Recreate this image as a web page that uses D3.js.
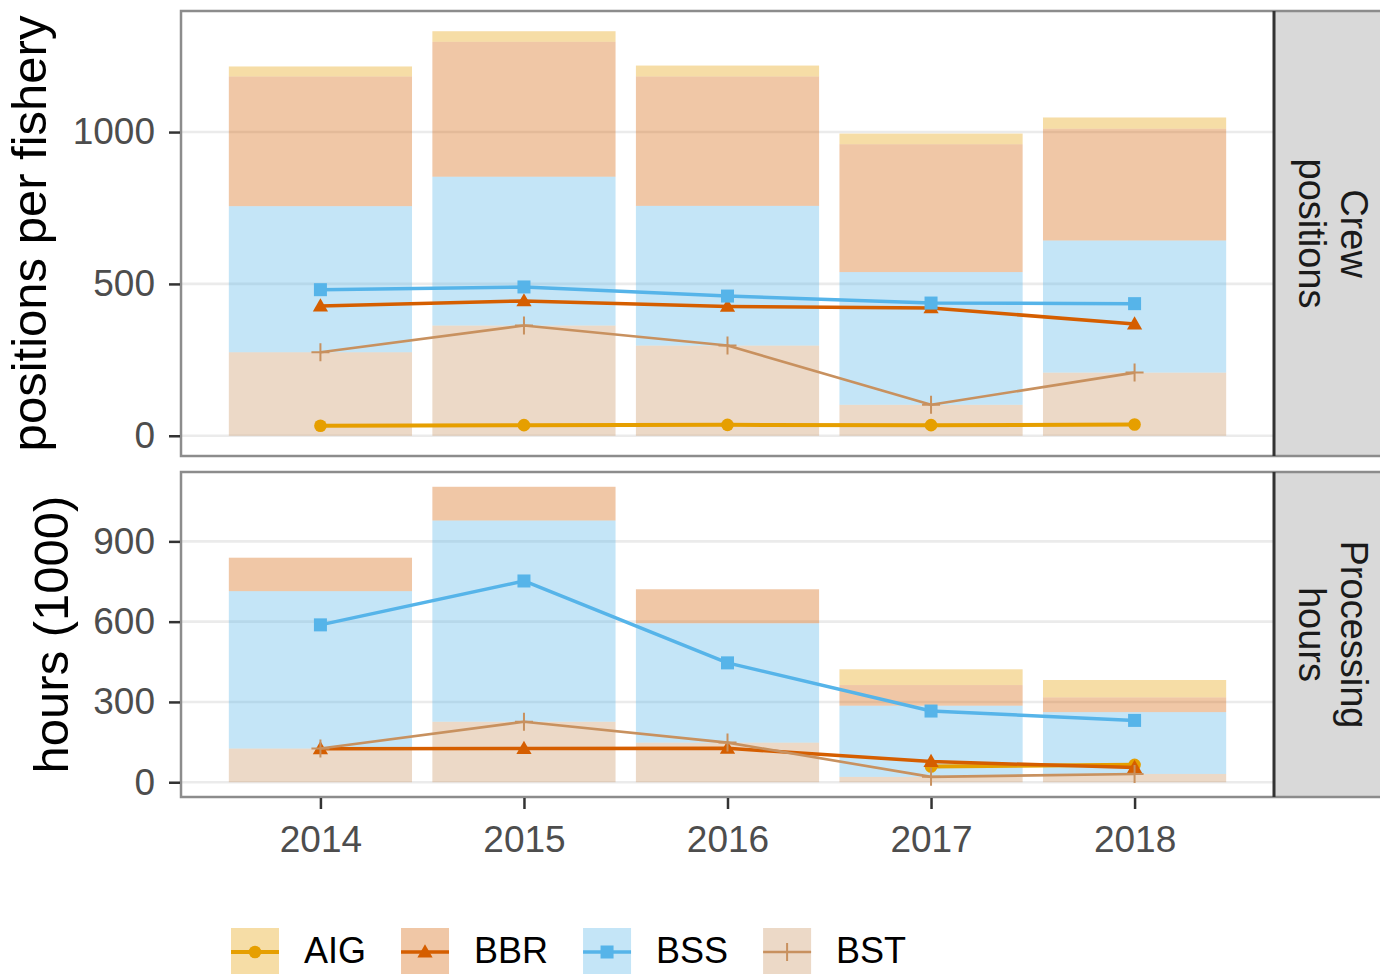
<!DOCTYPE html>
<html>
<head>
<meta charset="utf-8">
<script src="https://cdn.jsdelivr.net/npm/d3@7"></script>
<style>
  body { margin: 0; background: #fff; }
  svg { display: block; font-family: "Liberation Sans", Arial, Helvetica, sans-serif; }
</style>
</head>
<body>
<svg id="chart" width="1380" height="974"></svg>
<script>
// --- data -------------------------------------------------------------
const years = ['2014', '2015', '2016', '2017', '2018'];
const fisheries = ['AIG', 'BBR', 'BSS', 'BST'];

// crew positions per fishery
const crewAIG = [33, 35, 36, 35, 37];
const crewBBR = [427, 444, 426, 421, 368];
const crewBSS = [481, 490, 460, 437, 435];
const crewBST = [275, 363, 297, 102, 208];

// processing hours (1000)
const hoursAIG = [null, null, null, 59, 65];
const hoursBBR = [125, 126, 127, 77, 55];
const hoursBSS = [588, 752, 446, 266, 231];
const hoursBST = [126, 226, 148, 20, 31];

const crewTicks = [0, 500, 1000];
const hoursTicks = [0, 300, 600, 900];

// --- styles -----------------------------------------------------------
const colors = { AIG: '#E69F00', BBR: '#D55E00', BSS: '#56B4E9', BST: '#C8915F' };
const lineWidths = { AIG: 4, BBR: 3.5, BSS: 3.5, BST: 2.6 };
const barAlpha = 0.35;

const panelLeft = 181, panelRight = 1274, stripRight = 1384;

const panels = [
  {
    values: { AIG: crewAIG, BBR: crewBBR, BSS: crewBSS, BST: crewBST },
    ticks: crewTicks, title: 'positions per fishery', titleX: 46,
    strip: ['Crew', 'positions'], top: 11, bottom: 456
  },
  {
    values: { AIG: hoursAIG, BBR: hoursBBR, BSS: hoursBSS, BST: hoursBST },
    ticks: hoursTicks, title: 'hours (1000)', titleX: 68,
    strip: ['Processing', 'hours'], top: 472, bottom: 797
  }
];

const svg = d3.select('#chart');
svg.append('rect').attr('width', 1380).attr('height', 974).attr('fill', '#fff');

const x = d3.scalePoint()
  .domain(years)
  .range([panelLeft, panelRight])
  .padding(0.685);
const barWidth = x.step() * 0.9;

// marker drawing
function drawMarker(sel, key, color) {
  if (key === 'AIG') {
    sel.append('circle').attr('r', 6.3).attr('fill', color);
  } else if (key === 'BBR') {
    sel.append('path').attr('d', d3.symbol(d3.symbolTriangle, 100)()).attr('fill', color)
      .attr('transform', 'translate(0,1)');
  } else if (key === 'BSS') {
    sel.append('rect').attr('x', -6.5).attr('y', -6.5).attr('width', 13).attr('height', 13).attr('fill', color);
  } else {
    sel.append('path').attr('d', 'M-9,0H9M0,-9V9').attr('stroke', color)
      .attr('stroke-width', 2).attr('fill', 'none');
  }
}

panels.forEach((p, pi) => {
  const rows = years.map((yr, i) => {
    const r = { year: yr };
    fisheries.forEach(f => { r[f] = p.values[f][i] ?? 0; });
    return r;
  });
  const stacked = d3.stack().keys(['BST', 'BSS', 'BBR', 'AIG'])(rows);
  const maxTotal = d3.max(stacked[stacked.length - 1], d => d[1]);

  const y = d3.scaleLinear()
    .domain([-0.05 * maxTotal, 1.05 * maxTotal])
    .range([p.bottom, p.top]);

  const g = svg.append('g');

  // grid
  g.append('g').selectAll('line')
    .data(p.ticks)
    .join('line')
      .attr('x1', panelLeft).attr('x2', panelRight)
      .attr('y1', d => y(d)).attr('y2', d => y(d))
      .attr('stroke', '#EBEBEB').attr('stroke-width', 2.6);

  // stacked bars
  g.append('g').selectAll('g')
    .data(stacked)
    .join('g')
      .attr('fill', d => colors[d.key])
      .attr('fill-opacity', barAlpha)
    .selectAll('rect')
    .data(d => d.filter(s => s[1] > s[0]))
    .join('rect')
      .attr('x', d => x(d.data.year) - barWidth / 2)
      .attr('width', barWidth)
      .attr('y', d => y(d[1]))
      .attr('height', d => y(d[0]) - y(d[1]));

  // lines + markers
  fisheries.forEach(f => {
    const pts = years.map((yr, i) => ({ year: yr, v: p.values[f][i] }))
      .filter(d => d.v !== null);
    const line = d3.line().x(d => x(d.year)).y(d => y(d.v));
    g.append('path')
      .datum(pts)
      .attr('d', line)
      .attr('fill', 'none')
      .attr('stroke', colors[f])
      .attr('stroke-width', lineWidths[f])
      .attr('stroke-linejoin', 'round');
    g.append('g').selectAll('g')
      .data(pts)
      .join('g')
        .attr('transform', d => `translate(${x(d.year)},${y(d.v)})`)
        .each(function () { drawMarker(d3.select(this), f, colors[f]); });
  });

  // strip
  g.append('rect')
    .attr('x', panelRight).attr('y', p.top)
    .attr('width', stripRight - panelRight).attr('height', p.bottom - p.top)
    .attr('fill', '#D9D9D9');
  const midY = (p.top + p.bottom) / 2;
  const strip = g.append('g')
    .attr('transform', `translate(1341,${midY}) rotate(90)`);
  strip.append('text').text(p.strip[0])
    .attr('text-anchor', 'middle').attr('font-size', 38).attr('fill', '#1A1A1A');
  strip.append('text').text(p.strip[1])
    .attr('y', 42)
    .attr('text-anchor', 'middle').attr('font-size', 38).attr('fill', '#1A1A1A');

  // borders
  g.append('rect')
    .attr('x', panelLeft).attr('y', p.top)
    .attr('width', stripRight - panelLeft).attr('height', p.bottom - p.top)
    .attr('fill', 'none').attr('stroke', '#8C8C8C').attr('stroke-width', 2.5);
  g.append('line')
    .attr('x1', panelRight).attr('x2', panelRight)
    .attr('y1', p.top).attr('y2', p.bottom)
    .attr('stroke', '#333').attr('stroke-width', 3);

  // y axis
  const yAxis = g.append('g')
    .attr('transform', `translate(${panelLeft - 1},0)`)
    .call(d3.axisLeft(y).tickValues(p.ticks).tickFormat(d3.format('d'))
      .tickSize(11).tickPadding(14));
  yAxis.select('.domain').remove();
  yAxis.selectAll('.tick line').attr('stroke', '#333').attr('stroke-width', 2.5);
  yAxis.selectAll('.tick text')
    .attr('font-size', 37).attr('fill', '#4D4D4D')
    .attr('font-family', '"Liberation Sans", Arial, sans-serif');

  // y title
  g.append('text')
    .attr('transform', `translate(${p.titleX},${midY}) rotate(-90)`)
    .attr('text-anchor', 'middle')
    .attr('font-size', 49)
    .attr('fill', '#000')
    .text(p.title);

  // x axis on last panel
  if (pi === panels.length - 1) {
    const xAxis = g.append('g')
      .attr('transform', `translate(0,${p.bottom + 1})`)
      .call(d3.axisBottom(x).tickSize(11).tickPadding(17));
    xAxis.select('.domain').remove();
    xAxis.selectAll('.tick line').attr('stroke', '#333').attr('stroke-width', 2.5);
    xAxis.selectAll('.tick text')
      .attr('font-size', 37).attr('fill', '#4D4D4D')
      .attr('font-family', '"Liberation Sans", Arial, sans-serif');
  }
});

// --- legend -----------------------------------------------------------
const legend = svg.append('g').attr('transform', 'translate(231,928)');
let lx = 0;
fisheries.forEach(f => {
  const item = legend.append('g').attr('transform', `translate(${lx},0)`);
  item.append('rect')
    .attr('width', 48).attr('height', 48)
    .attr('fill', colors[f]).attr('fill-opacity', barAlpha);
  item.append('line')
    .attr('x1', 0).attr('x2', 48).attr('y1', 24).attr('y2', 24)
    .attr('stroke', colors[f]).attr('stroke-width', lineWidths[f]);
  drawMarker(item.append('g').attr('transform', 'translate(24,24)'), f, colors[f]);
  const t = item.append('text')
    .attr('x', 73).attr('y', 35)
    .attr('font-size', 36).attr('fill', '#000')
    .text(f);
  lx += 73 + t.node().getComputedTextLength() + 35;
});
</script>
</body>
</html>
